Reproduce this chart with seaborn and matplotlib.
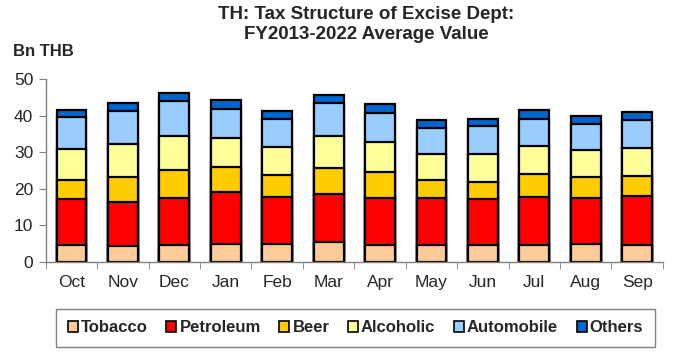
import numpy as np
import pandas as pd
import seaborn as sns
import matplotlib.pyplot as plt
from matplotlib.patches import Patch

months = ["Oct", "Nov", "Dec", "Jan", "Feb", "Mar", "Apr", "May", "Jun", "Jul", "Aug", "Sep"]
tobacco = [4.7, 4.5, 4.8, 4.9, 5.0, 5.4, 4.6, 4.6, 4.6, 4.6, 4.9, 4.8]
petroleum = [12.5, 11.9, 12.8, 14.2, 12.9, 13.2, 12.9, 12.9, 12.6, 13.3, 12.5, 13.2]
beer = [5.3, 6.9, 7.5, 6.8, 6.0, 7.0, 7.1, 4.9, 4.6, 6.1, 5.9, 5.6]
alcoholic = [8.5, 9.0, 9.4, 7.9, 7.6, 8.9, 8.1, 7.2, 7.8, 7.6, 7.3, 7.6]
automobile = [8.5, 8.9, 9.4, 7.9, 7.6, 8.9, 8.1, 7.1, 7.5, 7.6, 7.2, 7.7]
others = [2.1, 2.2, 2.4, 2.5, 2.2, 2.3, 2.4, 2.0, 2.0, 2.4, 2.2, 2.2]

series = ["Tobacco", "Petroleum", "Beer", "Alcoholic", "Automobile", "Others"]
colors = ["#FFCC99", "#FF0000", "#FFCC00", "#FFFF99", "#99CCFF", "#0066CC"]

df = pd.DataFrame({"month": months, "Tobacco": tobacco, "Petroleum": petroleum, "Beer": beer,
                   "Alcoholic": alcoholic, "Automobile": automobile, "Others": others})
cum = df[series].cumsum(axis=1)

sns.set_style("white")
plt.rcParams['font.family'] = ['Liberation Sans', 'DejaVu Sans']

fig = plt.figure(figsize=(6.73, 3.61), dpi=100)
ax = fig.add_axes([0.068, 0.274, 0.917, 0.507])

# stacked bars: draw cumulative totals from top layer down
for name, col in reversed(list(zip(series, colors))):
    sns.barplot(x=df["month"], y=cum[name], color=col, edgecolor="black", linewidth=1.6,
                width=0.58, saturation=1, ax=ax, zorder=2)

ax.set_ylim(0, 50)
ax.set_yticks(range(0, 51, 10))
ax.set_xlim(-0.5, 11.5)
ax.set_xticks(np.arange(-0.5, 12, 1), minor=True)
ax.tick_params(axis="x", which="major", length=0, labelsize=12.5, pad=9)
ax.tick_params(axis="x", which="minor", length=5, color="#808080", direction="out", bottom=True)
ax.tick_params(axis="y", length=5, color="#808080", direction="out", left=True, labelsize=12.5, pad=4)
ax.set_xlabel("")
ax.set_ylabel("")
for s in ["top", "right"]:
    ax.spines[s].set_visible(False)
for s in ["left", "bottom"]:
    ax.spines[s].set_color("#808080")
    ax.spines[s].set_linewidth(1)

fig.text(0.544, 0.982, "TH: Tax Structure of Excise Dept:\nFY2013-2022 Average Value",
         ha="center", va="top", fontsize=13.5, fontweight="bold", linespacing=1.2)
fig.text(0.02, 0.856, "Bn THB", ha="left", va="center", fontsize=12, fontweight="bold")

handles = [Patch(facecolor=c, edgecolor="black", linewidth=1.2) for c in colors]
leg = fig.legend(handles, series, loc="center", mode="expand",
                 bbox_to_anchor=(56 / 673, 12 / 361, 599 / 673, 42 / 361), ncol=6,
                 frameon=True, fancybox=False, handlelength=0.6, handleheight=0.6,
                 handletextpad=0.2, borderpad=0.7, borderaxespad=0,
                 prop={"weight": "bold", "size": 12})
leg.get_frame().set_edgecolor("#606060")
leg.get_frame().set_linewidth(1)

fig.savefig("out.png", dpi=100)
